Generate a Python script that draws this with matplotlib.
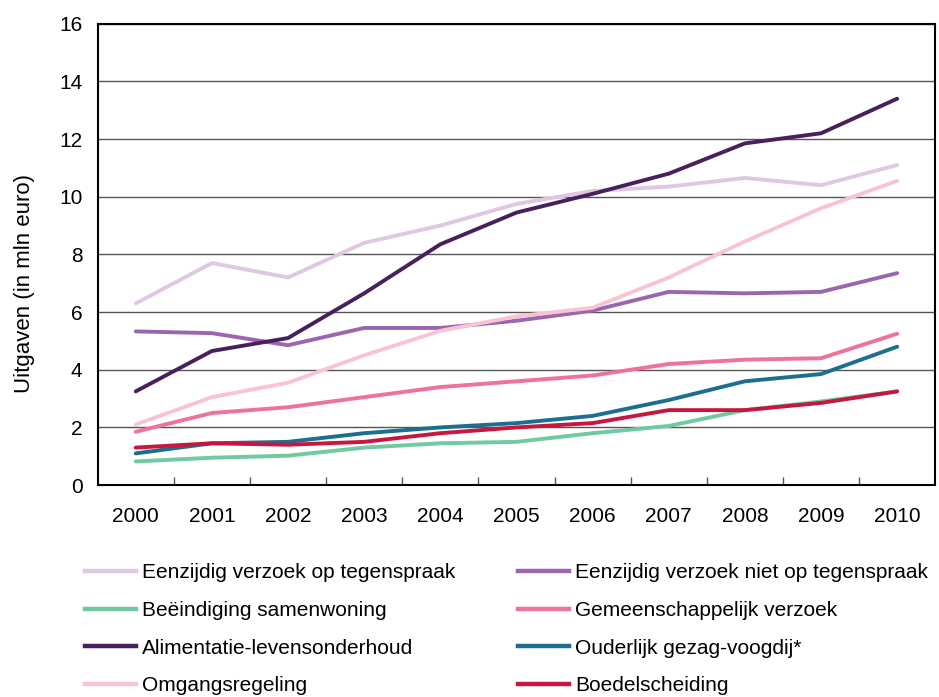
import matplotlib.pyplot as plt
from matplotlib.lines import Line2D

plt.rcParams['font.family'] = ['Liberation Sans', 'DejaVu Sans']

years = [str(y) for y in range(2000, 2011)]

# Uitgaven (in mln euro)
eenzijdig_tegen = [6.3, 7.7, 7.2, 8.4, 9.0, 9.75, 10.2, 10.35, 10.65, 10.4, 11.1]
eenzijdig_niet = [5.33, 5.27, 4.85, 5.45, 5.45, 5.7, 6.05, 6.7, 6.65, 6.7, 7.35]
beeindiging = [0.82, 0.95, 1.02, 1.3, 1.45, 1.5, 1.8, 2.05, 2.6, 2.9, 3.25]
gemeenschappelijk = [1.85, 2.5, 2.7, 3.05, 3.4, 3.6, 3.8, 4.2, 4.35, 4.4, 5.25]
alimentatie = [3.25, 4.65, 5.1, 6.65, 8.35, 9.45, 10.1, 10.8, 11.85, 12.2, 13.4]
ouderlijk = [1.1, 1.45, 1.5, 1.8, 2.0, 2.15, 2.4, 2.95, 3.6, 3.85, 4.8]
omgang = [2.1, 3.05, 3.55, 4.5, 5.35, 5.85, 6.15, 7.2, 8.45, 9.6, 10.55]
boedel = [1.3, 1.45, 1.4, 1.5, 1.8, 2.0, 2.15, 2.6, 2.6, 2.85, 3.25]

series = [
    ("Eenzijdig verzoek op tegenspraak", eenzijdig_tegen, "#E0C8E2"),
    ("Eenzijdig verzoek niet op tegenspraak", eenzijdig_niet, "#9B66AE"),
    ("Beëindiging samenwoning", beeindiging, "#70C9A0"),
    ("Gemeenschappelijk verzoek", gemeenschappelijk, "#EF7396"),
    ("Alimentatie-levensonderhoud", alimentatie, "#48205C"),
    ("Ouderlijk gezag-voogdij*", ouderlijk, "#1D6F8F"),
    ("Omgangsregeling", omgang, "#F8C4D4"),
    ("Boedelscheiding", boedel, "#C7173F"),
]

fig = plt.figure(figsize=(9.39, 6.97), dpi=100)
ax = fig.add_axes([0.104, 0.304, 0.892, 0.662])

x = range(len(years))
for name, vals, col in series:
    ax.plot(x, vals, color=col, lw=2.8, solid_capstyle="round", label=name)

ax.set_xlim(-0.5, len(years) - 0.5)
ax.set_ylim(0, 16)
ax.set_yticks(range(0, 17, 2))
ax.set_xticks(list(x))
ax.set_xticklabels(years)
ax.set_xticks([i + 0.5 for i in range(len(years) - 1)], minor=True)
ax.tick_params(axis="x", which="major", length=0, pad=16, labelsize=15)
ax.tick_params(axis="x", which="minor", direction="in", length=6, width=1, color="#555555")
ax.tick_params(axis="y", length=0, pad=11, labelsize=15)
ax.grid(axis="y", color="#555555", lw=1)
ax.set_axisbelow(True)
for s in ax.spines.values():
    s.set_linewidth(1.5)
    s.set_color("black")
ax.set_ylabel("Uitgaven (in mln euro)", fontsize=16)
ax.yaxis.set_label_coords(-0.075, 0.438)

# two legend columns, placed separately
handles = [Line2D([0], [0], color=c, lw=3.2) for _, _, c in series]
labels = [n for n, _, _ in series]
for cols, xpos in [([0, 2, 4, 6], 85 / 939), ([1, 3, 5, 7], 518 / 939)]:
    leg = fig.legend([handles[i] for i in cols], [labels[i] for i in cols],
                     loc="upper left", bbox_to_anchor=(xpos, 0.192),
                     frameon=False, fontsize=15, handlelength=2.45,
                     handletextpad=0.3, labelspacing=0.9,
                     borderpad=0, borderaxespad=0)

fig.savefig("out.png", dpi=100)
